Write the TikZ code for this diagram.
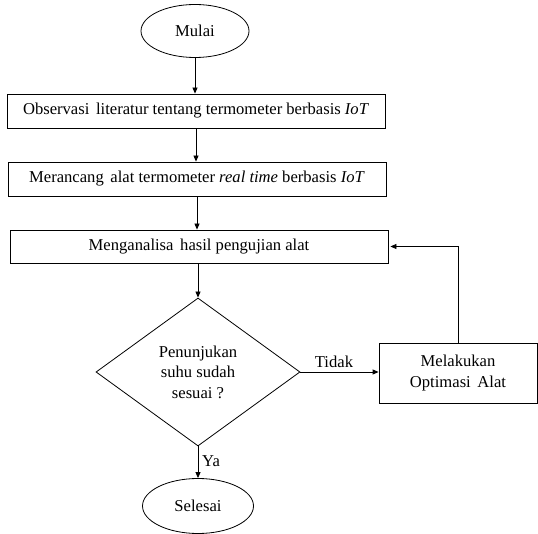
\documentclass[tikz,border=0pt]{standalone}
\usepackage{fontspec}
\setmainfont{Liberation Serif}
\usetikzlibrary{shapes.geometric,arrows.meta}
\tikzset{
  base/.style={draw=black, line width=0.8pt, inner sep=0pt, align=center, font=\fontsize{16.6}{20.5}\selectfont},
  term/.style={base, ellipse},
  proc/.style={base, rectangle},
  dec/.style={base, diamond},
  conn/.style={draw=black, line width=0.8pt, -{Triangle[length=6pt,width=5pt]}},
  lbl/.style={font=\fontsize{16.6}{20}\selectfont, inner sep=1pt}
}
\newcommand{\dsp}{\hspace{0.4em}}
\begin{document}
\begin{tikzpicture}[x=1pt,y=-1pt]
\useasboundingbox (0,0) rectangle (538,534);
\node[term, minimum width=108pt, minimum height=53pt] (mulai) at (195,31) {Mulai};
\node[proc, minimum width=378pt, minimum height=34pt] (b1) at (196,111) {Observasi\dsp literatur tentang termometer berbasis \textit{IoT}};
\node[proc, minimum width=378pt, minimum height=34pt] (b2) at (197,179) {Merancang\dsp alat termometer \textit{real time} berbasis \textit{IoT}};
\node[proc, minimum width=378pt, minimum height=33pt] (b3) at (199,246.5) {Menganalisa\dsp hasil pengujian alat};
\node[dec, minimum width=204pt, minimum height=148pt] (d) at (198,372) {Penunjukan\\suhu sudah\\sesuai ?};
\node[term, minimum width=111pt, minimum height=55pt] (sel) at (198,506) {Selesai};
\node[proc, minimum width=158pt, minimum height=60pt] (opt) at (458,373) {Melakukan\\Optimasi\dsp Alat};
\draw[conn] (mulai.south) -- (mulai.south |- b1.north);
\draw[conn] (b1.south) -- (b1.south |- b2.north);
\draw[conn] (b2.south) -- (b2.south |- b3.north);
\draw[conn] (d.north |- b3.south) -- (d.north);
\draw[conn] (d.south) -- (sel.north);
\draw[conn] (d.east) -- (d.east -| opt.west);
\draw[conn] (opt.north) |- ([xshift=2pt]b3.east);
\node[lbl, anchor=south] (tidak) at (334,369) {Tidak};
\node[lbl, anchor=west] (ya) at (201,461) {Ya};
\end{tikzpicture}
\end{document}
